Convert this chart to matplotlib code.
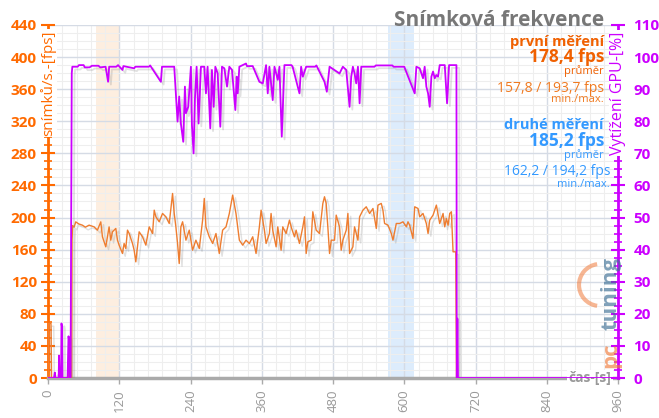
import numpy as np
import matplotlib
matplotlib.use("Agg")
import matplotlib.pyplot as plt
import matplotlib.patheffects as pe
from matplotlib.patches import Arc
from matplotlib.ticker import MultipleLocator

plt.rcParams['font.family'] = ['Open Sans', 'DejaVu Sans']

# --- data ---
# frame rate, first run [fps]
fps_t = [0, 1, 5, 6, 33, 34, 35, 40, 40.5, 41.5, 44, 46.7, 52, 57.9, 63, 69.2, 77.6, 83.2, 88.9, 91.7,
         97.3, 100.1, 102.9, 105.7, 108.5, 114.2, 117, 119.8, 125.4, 128.2, 131, 133.9, 136.7,
         142.3, 145.1, 147.9, 150.7, 153.5, 159.2, 164.8, 170.4, 176.1, 178.9, 181.7, 187.3,
         192.9, 198.5, 204.2, 209.8, 212.6, 215.4, 218.2, 221, 223.8, 226.7, 232.3, 237.9,
         243.5, 249.1, 254.8, 260.4, 263.2, 266, 271.6, 277.3, 282.9, 288.5, 294.1, 299.8,
         305.4, 311, 316.6, 322.3, 327.9, 333.5, 339.2, 344.8, 350.4, 356.0, 358.9, 361.7,
         364.5, 367.3, 372.9, 375.7, 378.5, 384.2, 387.0, 392.6, 395.4, 401.0, 406.7, 409.5,
         415.1, 417.9, 423.5, 429.2, 432.0, 434.8, 437.6, 443.2, 446.0, 451.7, 457.3, 462.9,
         465.7, 468.5, 471.3, 474.2, 477.0, 482.6, 485.4, 491.0, 493.8, 496.6, 502.3, 505.1,
         507.9, 513.5, 516.3, 522.0, 524.8, 530.4, 536.0, 541.6, 547.3, 552.9, 555.7, 561.3,
         564.1, 566.9, 572.6, 578.2, 581.0, 586.6, 592.3, 597.9, 603.5, 606.3, 609.1, 614.7,
         617.6, 623.2, 626.0, 631.6, 637.2, 640.1, 642.9, 648.5, 654.1, 659.7, 665.4, 668.2,
         671.0, 673.8, 676.6, 679.4, 682.2, 686.7, 688]
fps_v = [0, 68, 68, 0, 0, 18, 0, 0, 172, 190, 188, 194.6, 192, 190.5, 188, 190.5, 188.4, 184.3, 194.6, 176,
         163.5, 176, 188.4, 171.8, 182.2, 186.4, 171.8, 165.6, 155.2, 167.7, 161.4, 184.3, 180.1,
         167.7, 159.3, 144.8, 163.5, 182.2, 176, 165.6, 188.4, 180.1, 209.2, 200.9, 194.7,
         205.1, 200.9, 192.6, 230, 205.1, 188.4, 167.7, 142.7, 188.4, 194.7, 171.8, 184.3,
         159.3, 171.8, 161.4, 196.8, 223.8, 188.4, 176, 167.7, 180.1, 155.2, 184.3, 188.4,
         205.1, 228, 205.1, 171.8, 165.6, 171.8, 167.7, 176, 155.2, 188.4, 209.2, 196.8,
         184.3, 167.7, 180.1, 205.1, 184.3, 163.5, 188.4, 159.3, 188.4, 180.1, 196.8, 188.4,
         176, 184.3, 167.7, 188.4, 200.9, 155.2, 169.7, 171.8, 207.2, 184.3, 180.1, 217.6,
         225.9, 217.6, 188.4, 155.2, 171.8, 171.8, 203.0, 188.4, 159.3, 171.8, 184.3, 205.1,
         155.2, 163.5, 188.4, 171.8, 200.9, 209.2, 213.4, 205.1, 211.3, 186.4, 215.5, 217.6,
         209.2, 192.6, 190.5, 180.1, 171.8, 192.6, 192.6, 194.7, 188.4, 194.7, 190.5, 173.9,
         213.4, 211.3, 200.9, 205.1, 192.6, 180.1, 196.8, 203.0, 215.5, 192.6, 205.1, 188.4,
         198.9, 190.5, 205.1, 207.2, 157.3, 157.3, 0]

# GPU load [%]
gpu_t = [0, 10, 11.5, 12.5, 18, 18.6, 19.5, 22, 22.7, 23.5, 24.3, 33, 34.5, 35.5, 36.5, 38, 40, 41,
         50, 52, 60, 62, 70, 74, 85, 88, 97, 101.2, 103, 115, 118, 125.4, 127, 145.1, 147, 170, 172,
         190.1, 192, 212.6, 218.2, 221, 223.8, 227.8, 230.6, 232.3, 236.2, 240.7, 242.4, 245.2,
         247.5, 250.3, 253.6, 257.6, 263.2, 266, 268.8, 273.3, 276.1, 279, 281.8, 285.7, 290.2,
         293, 297, 301.5, 305.4, 309.9, 315.5, 317.8, 319.5, 322.3, 333.5, 335, 344.8, 356,
         361.7, 367.3, 370.1, 372.9, 378.5, 381.4, 387, 389.8, 393.7, 398.2, 410, 412, 423.5,
         426.3, 429.2, 434.8, 450, 452, 465.7, 469.6, 474.2, 491, 496.6, 502.3, 507.9, 510.7,
         513.5, 516.3, 519.1, 522, 524.8, 527.6, 550, 552, 580, 582, 600, 617.6, 620.4, 626,
         631.6, 634.4, 637.2, 640.1, 642.9, 645.7, 648.5, 651.3, 654.1, 656.9, 659.7, 668.2,
         672.1, 675.5, 687.9, 688.5, 689.5, 690.5, 960]
gpu_v = [0, 0, 1.7, 0, 0, 7, 0, 0, 17, 16, 0, 0, 13, 12, 0, 0, 95, 97,
         97, 97.5, 97.5, 96.8, 96.8, 97.3, 97.3, 96.8, 97, 92.3, 97, 97, 97.5, 96, 97.2, 96.5, 97, 97, 97.4,
         92.3, 97, 97, 79.9, 87.7, 79.3, 73.6, 90.8, 82.5, 84.5, 97, 78.8, 70,
         87.1, 97, 79.3, 97, 97, 88.7, 97, 77.8, 96, 84.5, 97, 94.9, 78.3,
         97, 96.5, 90.8, 97, 96, 83.5, 93.9, 88.7, 97, 98, 97.2, 97.2, 92.3,
         91.8, 97.5, 88.7, 97, 86.6, 97, 92.9, 97, 75.2, 97.5, 97.5, 97, 88.7,
         97, 93.9, 97, 97, 97.4, 92.3, 89.2, 97, 94.9, 97, 96, 84.5, 93.9,
         97, 94.9, 91.8, 97, 85.6, 97, 97, 97.4, 97.4, 97, 97, 88.7, 97, 96.5,
         93.4, 97, 90.8, 88.7, 84.5, 93.9, 95.5, 93.4, 94.4, 93.9, 97.5, 97.5,
         85.6, 97.5, 97.5, 0, 18.5, 0, 0]

span_first = (80, 121)
span_second = (573, 616)

ORANGE = '#ff6a00'
LINE_OR = '#ee7d30'
MAGENTA = '#cc00ff'
BLUE = '#3399ff'
GRAY = '#999999'

W, H = 659, 418
fig = plt.figure(figsize=(W / 100, H / 100), dpi=100)
ax = fig.add_axes([48 / W, 40 / H, (618 - 48) / W, (378 - 25) / H])
ax2 = ax.twinx()

ax.set_xlim(0, 960)
ax.set_ylim(0, 440)
ax2.set_ylim(0, 110)

# grid
ax.xaxis.set_major_locator(MultipleLocator(120))
ax.xaxis.set_minor_locator(MultipleLocator(24))
ax.yaxis.set_major_locator(MultipleLocator(40))
ax.yaxis.set_minor_locator(MultipleLocator(10))
ax.grid(which='major', color='#d5dbe5', lw=1.0, zorder=0)
ax.grid(which='minor', color='#eeeeee', lw=0.8, zorder=0)
ax.set_axisbelow(True)
ax2.yaxis.set_major_locator(MultipleLocator(10))
ax2.yaxis.set_minor_locator(MultipleLocator(2.5))

ax.axvspan(*span_first, color='#fde3cc', alpha=0.6, lw=0, zorder=0.5)
ax.axvspan(*span_second, color='#cfe4fb', alpha=0.7, lw=0, zorder=0.5)

shadow = [pe.SimpleLineShadow(offset=(2, -2), shadow_color='#888888', alpha=0.25), pe.Normal()]
ax.plot(fps_t, fps_v, color=LINE_OR, lw=1.0, path_effects=shadow, zorder=3)
ax2.plot(gpu_t, gpu_v, color=MAGENTA, lw=1.3, path_effects=shadow, zorder=3)

# spines
for s in ['top', 'right']:
    ax.spines[s].set_visible(False)
for s in ['top', 'left', 'bottom']:
    ax2.spines[s].set_visible(False)
ax.spines['left'].set_color(ORANGE)
ax.spines['left'].set_linewidth(2)
ax.spines['bottom'].set_color('#aaaaaa')
ax.spines['bottom'].set_linewidth(2.5)
ax2.spines['right'].set_color(MAGENTA)
ax2.spines['right'].set_linewidth(2)

ax.tick_params(axis='y', which='major', direction='inout', length=10, width=1.5, color=ORANGE,
               labelcolor=ORANGE, labelsize=11, pad=3)
ax.tick_params(axis='y', which='minor', direction='inout', length=6, width=1.2, color=ORANGE)
ax.tick_params(axis='x', which='major', length=4, width=1, color='#aaaaaa', labelcolor=GRAY,
               labelsize=9.5, labelrotation=90, pad=4)
ax.tick_params(axis='x', which='minor', length=0)
ax2.tick_params(axis='y', which='major', direction='inout', length=10, width=1.5, color=MAGENTA,
                labelcolor=MAGENTA, labelsize=11, pad=6)
ax2.tick_params(axis='y', which='minor', direction='inout', length=6, width=1.2, color=MAGENTA)
for lab in ax.get_yticklabels() + ax2.get_yticklabels():
    lab.set_fontweight('bold')

# axis labels sitting on the spines
ax.text(0, 433, 'snímků/s.-[fps]', transform=ax.get_yaxis_transform(), rotation=90,
        ha='center', va='top', color=ORANGE, fontsize=11,
        bbox=dict(facecolor='white', edgecolor='none', pad=1), zorder=10)
ax2.text(1, 108, 'Vytížení GPU-[%]', transform=ax2.get_yaxis_transform(), rotation=90,
         ha='center', va='top', color=MAGENTA, fontsize=11.5,
         bbox=dict(facecolor='white', edgecolor='none', pad=1), zorder=10)
ax.text(0.989, 0.0, 'čas-[s]', transform=ax.transAxes, ha='right', va='center',
        color=GRAY, fontsize=10, fontweight='bold',
        bbox=dict(facecolor='white', edgecolor='none', pad=1), zorder=10)

# pctuning watermark
fig.text(611 / W, 1 - 294 / H, 'tuning', rotation=90, ha='center', va='center',
         color='#3d6f95', alpha=0.65, fontsize=16, fontweight='bold')
fig.text(611 / W, 1 - 355 / H, 'pc', rotation=90, ha='center', va='center',
         color='#f07a3a', alpha=0.65, fontsize=16, fontweight='bold')
fig.add_artist(Arc((600 / W, 1 - 285 / H), 42 / W, 42 / H, theta1=95, theta2=265,
                   transform=fig.transFigure, color='#f07a3a', lw=3, alpha=0.55))

# title and summary
def ftxt(x, y, s, **kw):
    fig.text(x / W, 1 - y / H, s, ha='right', va='center', **kw)

ftxt(604, 20, 'Snímková frekvence', color='#777777', fontsize=15, fontweight='bold')
ftxt(604, 42, 'první měření', color='#f06000', fontsize=10.5, fontweight='bold')
ftxt(604, 57, '178,4 fps', color='#f06000', fontsize=12.5, fontweight='bold')
ftxt(604, 71, 'průměr', color='#f06000', fontsize=8)
ftxt(604, 88, '157,8 / 193,7 fps', color='#f07a20', fontsize=10)
ftxt(604, 100, 'min./max.', color='#f07a20', fontsize=8)
ftxt(604, 125, 'druhé měření', color=BLUE, fontsize=10.5, fontweight='bold')
ftxt(604, 141, '185,2 fps', color=BLUE, fontsize=12.5, fontweight='bold')
ftxt(604, 155, 'průměr', color=BLUE, fontsize=8)
ftxt(610, 172, '162,2 / 194,2 fps', color=BLUE, fontsize=10)
ftxt(610, 184, 'min./max.', color=BLUE, fontsize=8)

fig.savefig('out.png', dpi=100)
